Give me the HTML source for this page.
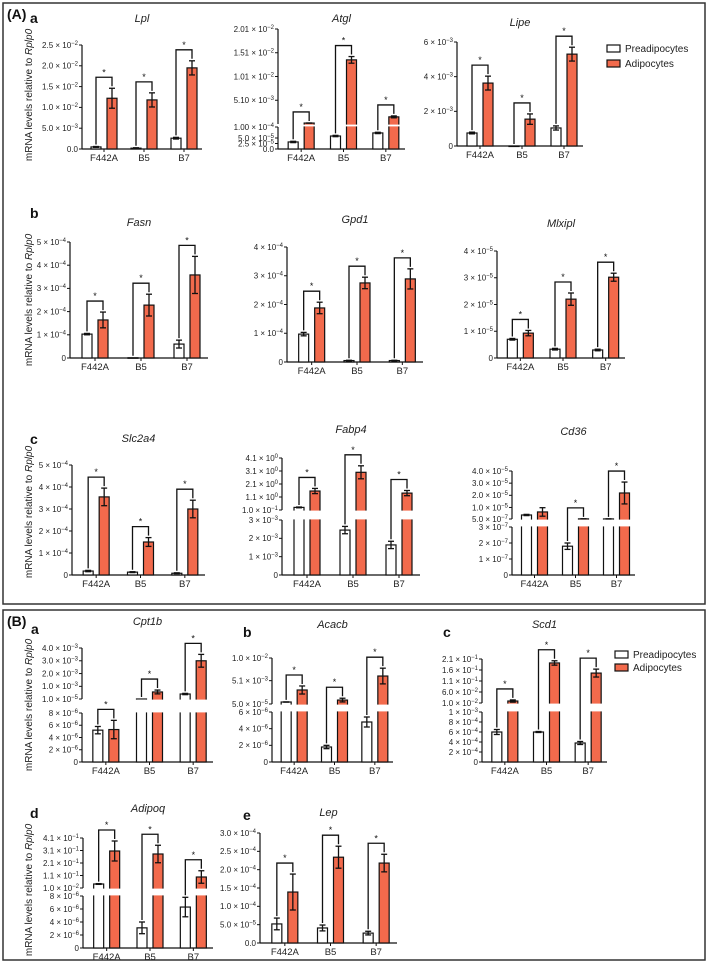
<!DOCTYPE html>
<html><head><meta charset="utf-8">
<style>
html,body{margin:0;padding:0;background:#fff;}
svg{display:block;font-family:"Liberation Sans",Arial,sans-serif;}
.tk{font-size:8px;fill:#222;}
.ttl{font-size:11px;font-style:italic;fill:#222;}
.pl{font-size:14px;font-weight:bold;fill:#111;}
.cat{font-size:9.5px;fill:#222;}
.yt{font-size:10px;fill:#222;}
.lg{font-size:10px;fill:#222;}
</style></head>
<body>
<svg id="fig" width="709" height="964" viewBox="0 0 709 964" xmlns="http://www.w3.org/2000/svg">
<rect x="3" y="3" width="702" height="601" fill="none" stroke="#333" stroke-width="1.5"/>
<rect x="3" y="610" width="702" height="350" fill="none" stroke="#333" stroke-width="1.5"/>
<text class="pl" x="7" y="19">(A)</text>
<text class="pl" x="7" y="626">(B)</text>
<text class="pl" x="30" y="23">a</text>
<text class="pl" x="30" y="218">b</text>
<text class="pl" x="30" y="444">c</text>
<text class="pl" x="31" y="634">a</text>
<text class="pl" x="243" y="637">b</text>
<text class="pl" x="443" y="637">c</text>
<text class="pl" x="30" y="818">d</text>
<text class="pl" x="243" y="820">e</text>
<g>
<rect x="607" y="45" width="13" height="7" fill="#fff" stroke="#111" stroke-width="1.2"/>
<text class="lg" x="625" y="52">Preadipocytes</text>
<rect x="607" y="60" width="13" height="7" fill="#f26a4c" stroke="#111" stroke-width="1.2"/>
<text class="lg" x="625" y="67">Adipocytes</text>
</g>
<g>
<rect x="615" y="651" width="13" height="7" fill="#fff" stroke="#111" stroke-width="1.2"/>
<text class="lg" x="633" y="658">Preadipocytes</text>
<rect x="615" y="664" width="13" height="7" fill="#f26a4c" stroke="#111" stroke-width="1.2"/>
<text class="lg" x="633" y="671">Adipocytes</text>
</g>
</svg>
<script>
const categories=["F442A","B5","B7"];
// Lpl
const lplPre=[0.0005,0.0002,0.0026], lplPreErr=[0.0001,0.0001,0.0002];
const lplAdi=[0.0122,0.0118,0.0195], lplAdiErr=[0.0024,0.0017,0.0017];
const lplTicks=[0,0.005,0.01,0.015,0.02,0.025];
const lplLabels=["0.0","5.0 × 10^-3","1.0 × 10^-2","1.5 × 10^-2","2.0 × 10^-2","2.5 × 10^-2"];
// Atgl
const atglPre=[3.2e-5,5.9e-5,7.3e-5], atglPreErr=[0.3e-5,0.3e-5,0.3e-5];
const atglAdi=[3.0e-4,0.0136,0.0016], atglAdiErr=[0.2e-4,0.0007,0.0002];
const atglTicks=[0,2.5e-5,5e-5,1e-4,5.1e-3,1.01e-2,1.51e-2,2.01e-2];
const atglLabels=["0.0","2.5 × 10^-5","5.0 × 10^-5","1.00 × 10^-4","5.10 × 10^-3","1.01 × 10^-2","1.51 × 10^-2","2.01 × 10^-2"];
// Lipe
const lipePre=[0.00075,0,0.00104], lipePreErr=[0.00005,0,0.00012];
const lipeAdi=[0.00363,0.00155,0.0053], lipeAdiErr=[0.0004,0.0003,0.0004];
const lipeTicks=[0,0.002,0.004,0.006];
const lipeLabels=["0","2 × 10^-3","4 × 10^-3","6 × 10^-3"];
// Fasn
const fasnPre=[1.03e-4,0.01e-4,0.6e-4], fasnPreErr=[0.03e-4,0,0.17e-4];
const fasnAdi=[1.64e-4,2.28e-4,3.58e-4], fasnAdiErr=[0.34e-4,0.47e-4,0.8e-4];
const fasnTicks=[0,1e-4,2e-4,3e-4,4e-4,5e-4];
const fasnLabels=["0","1 × 10^-4","2 × 10^-4","3 × 10^-4","4 × 10^-4","5 × 10^-4"];
// Gpd1
const gpd1Pre=[0.97e-4,0.05e-4,0.05e-4], gpd1PreErr=[0.06e-4,0.01e-4,0.01e-4];
const gpd1Adi=[1.88e-4,2.75e-4,2.89e-4], gpd1AdiErr=[0.2e-4,0.2e-4,0.35e-4];
const gpd1Ticks=[0,1e-4,2e-4,3e-4,4e-4];
const gpd1Labels=["0","1 × 10^-4","2 × 10^-4","3 × 10^-4","4 × 10^-4"];
// Mlxipl
const mlxPre=[0.7e-5,0.33e-5,0.3e-5], mlxPreErr=[0.03e-5,0.03e-5,0.03e-5];
const mlxAdi=[0.93e-5,2.2e-5,3.02e-5], mlxAdiErr=[0.1e-5,0.23e-5,0.15e-5];
const mlxTicks=[0,1e-5,2e-5,3e-5,4e-5];
const mlxLabels=["0","1 × 10^-5","2 × 10^-5","3 × 10^-5","4 × 10^-5"];
// Slc2a4
const slcPre=[0.18e-4,0.13e-4,0.08e-4], slcPreErr=[0.03e-4,0.02e-4,0.02e-4];
const slcAdi=[3.55e-4,1.5e-4,3.0e-4], slcAdiErr=[0.4e-4,0.2e-4,0.4e-4];
const slcTicks=[0,1e-4,2e-4,3e-4,4e-4,5e-4];
const slcLabels=["0","1 × 10^-4","2 × 10^-4","3 × 10^-4","4 × 10^-4","5 × 10^-4"];
// Fabp4
const fabPre=[0.3,2.45e-3,1.64e-3], fabPreErr=[0.03,0.2e-3,0.2e-3];
const fabAdi=[1.56,3.0,1.4], fabAdiErr=[0.2,0.5,0.2];
const fabTicks=[0,1e-3,2e-3,3e-3,0.1,1.1,2.1,3.1,4.1];
const fabLabels=["0","1 × 10^-3","2 × 10^-3","3 × 10^-3","1.0 × 10^-1","1.1 × 10^0","2.1 × 10^0","3.1 × 10^0","4.1 × 10^0"];
// Cd36
const cd36Pre=[3.8e-6,1.8e-7,5.5e-7], cd36PreErr=[0.5e-6,0.2e-7,0.2e-7];
const cd36Adi=[6.3e-6,6e-7,2.19e-5], cd36AdiErr=[3.5e-6,0.3e-7,0.9e-5];
const cd36Ticks=[0,1e-7,2e-7,3e-7,5e-7,1e-5,2e-5,3e-5,4e-5];
const cd36Labels=["0","1 × 10^-7","2 × 10^-7","3 × 10^-7","5.0 × 10^-7","1.0 × 10^-5","2.0 × 10^-5","3.0 × 10^-5","4.0 × 10^-5"];
const cd36Sig=[false,true,true];
// Cpt1b
const cptPre=[5.2e-6,1e-5,4e-4], cptPreErr=[0.6e-6,0,0.5e-4];
const cptAdi=[5.3e-6,5.6e-4,3.0e-3], cptAdiErr=[1.5e-6,1.5e-4,0.5e-3];
const cptTicks=[0,2e-6,4e-6,6e-6,8e-6,1e-5,1e-3,2e-3,3e-3,4e-3];
const cptLabels=["0","2 × 10^-6","4 × 10^-6","6 × 10^-6","8 × 10^-6","1.0 × 10^-5","1.0 × 10^-3","2.0 × 10^-3","3.0 × 10^-3","4.0 × 10^-3"];
// Acacb
const acaPre=[4.8e-4,1.8e-6,4.8e-6], acaPreErr=[0.3e-4,0.2e-6,0.6e-6];
const acaAdi=[3.08e-3,9e-4,6.1e-3], acaAdiErr=[0.87e-3,0.4e-3,1.7e-3];
const acaTicks=[0,2e-6,4e-6,6e-6,5e-5,5.1e-3,1e-2];
const acaLabels=["0","2 × 10^-6","4 × 10^-6","6 × 10^-6","5.0 × 10^-5","5.1 × 10^-3","1.0 × 10^-2"];
// Scd1
const scdPre=[6e-4,6e-4,3.8e-4], scdPreErr=[0.5e-4,0.1e-4,0.3e-4];
const scdAdi=[0.019,0.192,0.146], scdAdiErr=[0.005,0.01,0.018];
const scdTicks=[0,2e-4,4e-4,6e-4,8e-4,1e-3,1e-2,6e-2,1.1e-1,1.6e-1,2.1e-1];
const scdLabels=["0","2 × 10^-4","4 × 10^-4","6 × 10^-4","8 × 10^-4","1 × 10^-3","1.0 × 10^-2","6.0 × 10^-2","1.1 × 10^-1","1.6 × 10^-1","2.1 × 10^-1"];
// Adipoq
const adiqPre=[0.042,3.1e-6,6.3e-6], adiqPreErr=[0.003,0.9e-6,1.5e-6];
const adiqAdi=[0.306,0.282,0.098], adiqAdiErr=[0.08,0.07,0.05];
const adiqTicks=[0,2e-6,4e-6,6e-6,8e-6,1e-2,1.1e-1,2.1e-1,3.1e-1,4.1e-1];
const adiqLabels=["0","2 × 10^-6","4 × 10^-6","6 × 10^-6","8 × 10^-6","1.0 × 10^-2","1.1 × 10^-1","2.1 × 10^-1","3.1 × 10^-1","4.1 × 10^-1"];
// Lep
const lepPre=[0.52e-4,0.41e-4,0.27e-4], lepPreErr=[0.16e-4,0.08e-4,0.05e-4];
const lepAdi=[1.39e-4,2.34e-4,2.18e-4], lepAdiErr=[0.49e-4,0.3e-4,0.24e-4];
const lepTicks=[0,0.5e-4,1e-4,1.5e-4,2e-4,2.5e-4,3e-4];
const lepLabels=["0.0","5.0 × 10^-5","1.0 × 10^-4","1.5 × 10^-4","2.0 × 10^-4","2.5 × 10^-4","3.0 × 10^-4"];

const NS="http://www.w3.org/2000/svg";
const svg=document.getElementById('fig');
const ORANGE="#f26a4c";
function el(tag,attrs,parent){const e=document.createElementNS(NS,tag);for(const k in attrs)e.setAttribute(k,attrs[k]);(parent||svg).appendChild(e);return e;}

function makeScale(c){
  return function(v){
    if(!c.broken||v<=c.lowMax) return c.y0-v/c.lowMax*(c.y0-c.yL);
    return c.yU-(v-c.upMin)/(c.upMax-c.upMin)*(c.yU-c.yTop);
  };
}
function tickLabel(g,x,y,s){
  const t=el('text',{x:x,y:y,'text-anchor':'end',class:'tk'},g);
  const p=s.split('^');
  if(p.length===1){t.textContent=s;return;}
  const a=document.createElementNS(NS,'tspan');a.textContent=p[0];t.appendChild(a);
  const b=document.createElementNS(NS,'tspan');b.setAttribute('dy','-3');b.setAttribute('font-size','6px');b.textContent=p[1].replace('-','−');t.appendChild(b);
}
function chart(c){
  const g=el('g',{});
  
  
  const y=makeScale(c);
  if(!c.broken){c.yL=c.yTop;}
  const t=el('text',{x:(c.x0+c.x1)/2,y:c.ty,'text-anchor':'middle',class:'ttl'},g);
  t.textContent=c.title;
  
  
  const ax=el('g',{},g);
  
  
  if(c.broken){
    el('line',{x1:c.x0,y1:c.y0,x2:c.x0,y2:c.yL,stroke:'#111','stroke-width':1.2},ax);
    el('line',{x1:c.x0,y1:c.yU,x2:c.x0,y2:c.yTop,stroke:'#111','stroke-width':1.2},ax);
  } else {
    el('line',{x1:c.x0,y1:c.y0,x2:c.x0,y2:c.yTop,stroke:'#111','stroke-width':1.2},ax);
  }
  c.ticks.forEach((v,i)=>{
    const yy=y(v);
    el('line',{x1:c.x0-3,y1:yy,x2:c.x0,y2:yy,stroke:'#111','stroke-width':1},ax);
    tickLabel(ax,c.x0-4,yy+2.8,c.labels[i]);
  });
  const xa=el('g',{},g);
  
  
  el('line',{x1:c.x0,y1:c.y0,x2:c.x1,y2:c.y0,stroke:'#111','stroke-width':1.2},xa);
  const w=(c.x1-c.x0)/categories.length;
  categories.forEach((cat,i)=>{
    const cx=c.x0+(i+0.5)*w+2;
    el('line',{x1:cx,y1:c.y0,x2:cx,y2:c.y0+3,stroke:'#111','stroke-width':1},xa);
    const tx=el('text',{x:cx,y:c.y0+12,'text-anchor':'middle',class:'cat'},xa);
    tx.textContent=cat;
    [[c.pre,c.preErr,'#fff',-13,'pre'],[c.adi,c.adiErr,ORANGE,3,'adi']].forEach(s=>{
      const v=s[0][i],e=s[1][i],bx=cx+s[3];
      const top=y(v);
      const r=el('rect',{x:bx,y:top,width:10,height:Math.max(0.5,c.y0-top),fill:s[2],stroke:'#111','stroke-width':1.2},g);
      
      
      if(c.broken&&v>c.lowMax){
        el('rect',{x:bx-1,y:c.yU+0.6,width:12,height:Math.max(1.5,c.yL-c.yU-1.2),fill:'#fff'},g);
      }
      if(e>0){
        const ey1=y(v+e),ey2=y(Math.max(0,v-e));
        const eb=el('g',{},g);
        
        
        el('line',{x1:bx+5,y1:ey1,x2:bx+5,y2:ey2,stroke:'#111','stroke-width':1.3},eb);
        el('line',{x1:bx+2,y1:ey1,x2:bx+8,y2:ey1,stroke:'#111','stroke-width':1.3},eb);
        el('line',{x1:bx+2,y1:ey2,x2:bx+8,y2:ey2,stroke:'#111','stroke-width':1.3},eb);
      }
    });
    const sig=c.sig?c.sig[i]:true;
    if(sig){
      const pt=y(c.pre[i]+c.preErr[i])-2, at=y(c.adi[i]+c.adiErr[i])-2;
      const bt=Math.min(pt,at)-9;
      const br=el('path',{d:'M'+(cx-8)+' '+pt+' V'+bt+' H'+(cx+8)+' V'+at,fill:'none',stroke:'#111','stroke-width':1.3},g);
      
      
      const st=el('text',{x:cx,y:bt-2,'text-anchor':'middle','font-size':'9px',fill:'#111'},g);
      st.textContent='*';
      
      
    }
  });
}
function ytitle(x,yc){
  const t=el('text',{x:0,y:0,'text-anchor':'middle',class:'yt',transform:'translate('+x+','+yc+') rotate(-90)'});
  
  
  const a=document.createElementNS(NS,'tspan');a.textContent='mRNA levels relative to ';t.appendChild(a);
  const b=document.createElementNS(NS,'tspan');b.setAttribute('font-style','italic');b.textContent='Rplp0';t.appendChild(b);
}
chart({name:'lpl',title:'Lpl',ty:22,x0:82,x1:202,y0:149,yTop:45,lowMax:0.025,ticks:lplTicks,labels:lplLabels,pre:lplPre,preErr:lplPreErr,adi:lplAdi,adiErr:lplAdiErr});
chart({name:'atgl',title:'Atgl',ty:22,x0:278,x1:405,y0:149,yTop:29,broken:true,lowMax:1e-4,yL:127,upMin:1e-4,yU:124,upMax:2.01e-2,ticks:atglTicks,labels:atglLabels,pre:atglPre,preErr:atglPreErr,adi:atglAdi,adiErr:atglAdiErr});
chart({name:'lipe',title:'Lipe',ty:26,x0:457,x1:583,y0:146,yTop:42,lowMax:0.006,ticks:lipeTicks,labels:lipeLabels,pre:lipePre,preErr:lipePreErr,adi:lipeAdi,adiErr:lipeAdiErr});
chart({name:'fasn',title:'Fasn',ty:226,x0:70,x1:208,y0:358,yTop:242,lowMax:5e-4,ticks:fasnTicks,labels:fasnLabels,pre:fasnPre,preErr:fasnPreErr,adi:fasnAdi,adiErr:fasnAdiErr});
chart({name:'gpd1',title:'Gpd1',ty:223,x0:287,x1:423,y0:362,yTop:247,lowMax:4e-4,ticks:gpd1Ticks,labels:gpd1Labels,pre:gpd1Pre,preErr:gpd1PreErr,adi:gpd1Adi,adiErr:gpd1AdiErr});
chart({name:'mlxipl',title:'Mlxipl',ty:227,x0:497,x1:625,y0:358,yTop:251,lowMax:4e-5,ticks:mlxTicks,labels:mlxLabels,pre:mlxPre,preErr:mlxPreErr,adi:mlxAdi,adiErr:mlxAdiErr});
chart({name:'slc2a4',title:'Slc2a4',ty:442,x0:72,x1:205,y0:575,yTop:465,lowMax:5e-4,ticks:slcTicks,labels:slcLabels,pre:slcPre,preErr:slcPreErr,adi:slcAdi,adiErr:slcAdiErr});
chart({name:'fabp4',title:'Fabp4',ty:433,x0:282,x1:420,y0:575,yTop:458,broken:true,lowMax:3e-3,yL:520,upMin:0.1,yU:510,upMax:4.1,ticks:fabTicks,labels:fabLabels,pre:fabPre,preErr:fabPreErr,adi:fabAdi,adiErr:fabAdiErr});
chart({name:'cd36',title:'Cd36',ty:435,x0:512,x1:635,y0:575,yTop:471,broken:true,lowMax:3e-7,yL:527,upMin:5e-7,yU:519,upMax:4e-5,ticks:cd36Ticks,labels:cd36Labels,pre:cd36Pre,preErr:cd36PreErr,adi:cd36Adi,adiErr:cd36AdiErr,sig:cd36Sig});
chart({name:'cpt1b',title:'Cpt1b',ty:625,x0:82,x1:213,y0:762,yTop:648,broken:true,lowMax:8e-6,yL:713,upMin:1e-5,yU:699,upMax:4e-3,ticks:cptTicks,labels:cptLabels,pre:cptPre,preErr:cptPreErr,adi:cptAdi,adiErr:cptAdiErr});
chart({name:'acacb',title:'Acacb',ty:628,x0:272,x1:393,y0:762,yTop:658,broken:true,lowMax:6e-6,yL:712,upMin:5e-5,yU:704,upMax:1e-2,ticks:acaTicks,labels:acaLabels,pre:acaPre,preErr:acaPreErr,adi:acaAdi,adiErr:acaAdiErr});
chart({name:'scd1',title:'Scd1',ty:628,x0:482,x1:607,y0:762,yTop:659,broken:true,lowMax:1e-3,yL:712,upMin:1e-2,yU:703,upMax:2.1e-1,ticks:scdTicks,labels:scdLabels,pre:scdPre,preErr:scdPreErr,adi:scdAdi,adiErr:scdAdiErr});
chart({name:'adipoq',title:'Adipoq',ty:812,x0:83,x1:213,y0:948,yTop:838,broken:true,lowMax:8e-6,yL:896,upMin:1e-2,yU:888,upMax:4.1e-1,ticks:adiqTicks,labels:adiqLabels,pre:adiqPre,preErr:adiqPreErr,adi:adiqAdi,adiErr:adiqAdiErr});
chart({name:'lep',title:'Lep',ty:816,x0:260,x1:397,y0:943,yTop:833,lowMax:3e-4,ticks:lepTicks,labels:lepLabels,pre:lepPre,preErr:lepPreErr,adi:lepAdi,adiErr:lepAdiErr});
ytitle(32,95);ytitle(32,300);ytitle(32,512);ytitle(32,705);ytitle(32,890);
</script>
</body></html>
